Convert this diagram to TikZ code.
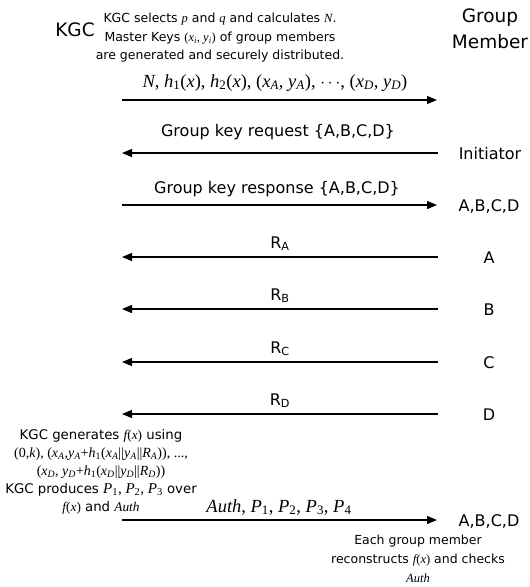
\documentclass[tikz,border=0pt]{standalone}
\usepackage{fontspec}
\setmainfont{DejaVu Sans}
\newfontfamily\tm{Liberation Serif}
\usetikzlibrary{arrows.meta}
\newcommand\vi[1]{{\tm\itshape #1}}
\newcommand\sbx[1]{\textsubscript{#1}}
\begin{document}
\begin{tikzpicture}[x=1pt,y=-1pt,
  arr/.style={line width=1.2pt,-{Triangle[length=10pt,width=8pt]}},
  lbl/.style={inner sep=0pt,anchor=base,font=\fontsize{16}{19}\selectfont},
  mlbl/.style={inner sep=0pt,anchor=base,font=\tm\fontsize{18.5}{20}\selectfont},
  side/.style={inner sep=0pt,anchor=base,font=\fontsize{16}{19}\selectfont},
  note/.style={inner sep=0pt,align=center}]
\useasboundingbox (0,0) rectangle (530,587);

\node[inner sep=0pt,font=\fontsize{18.5}{22}\selectfont] (kgc) at (75,30) {KGC};
\node[note,font=\fontsize{12.5}{18.5}\selectfont] (top) at (220,38)
  {KGC selects \vi{p} and \vi{q} and calculates \vi{N}.\\
   Master Keys {\tm(\vi{x}\sbx{\vi{i}}, \vi{y}\sbx{\vi{i}})} of group members\\
   are generated and securely distributed.};
\node[note,font=\fontsize{18.5}{26}\selectfont] (gm) at (490,29) {Group\\Member};

% arrow 1
\coordinate (a1l) at (122,100); \coordinate (a1r) at (437,100);
\draw[arr] (a1l) -- (a1r);
\node[mlbl] (m1) at (275,87) {\vi{N}, \vi{h}\sbx{1}(\vi{x}), \vi{h}\sbx{2}(\vi{x}), (\vi{x}\sbx{\vi{A}}, \vi{y}\sbx{\vi{A}}), $\cdots$, (\vi{x}\sbx{\vi{D}}, \vi{y}\sbx{\vi{D}})};

% arrow 2
\coordinate (a2l) at (122,153); \coordinate (a2r) at (438,153);
\draw[arr] (a2r) -- (a2l);
\node[lbl] (m2) at (278,136) {Group key request \{A,B,C,D\}};
\node[side] (ini) at (490,159) {Initiator};

% arrow 3
\coordinate (a3l) at (122,205); \coordinate (a3r) at (437,205);
\draw[arr] (a3l) -- (a3r);
\node[lbl] (m3) at (277,193) {Group key response \{A,B,C,D\}};
\node[side] (all1) at (489,211) {A,B,C,D};

% R arrows
\coordinate (a4l) at (122,257); \coordinate (a4r) at (438,257);
\draw[arr] (a4r) -- (a4l);
\node[lbl] (m4) at (280,248) {R\sbx{A}};
\node[side] (na) at (489,263) {A};

\coordinate (a5l) at (122,309); \coordinate (a5r) at (438,309);
\draw[arr] (a5r) -- (a5l);
\node[lbl] (m5) at (280,300) {R\sbx{B}};
\node[side] (nb) at (489,315) {B};

\coordinate (a6l) at (122,362); \coordinate (a6r) at (438,362);
\draw[arr] (a6r) -- (a6l);
\node[lbl] (m6) at (280,353) {R\sbx{C}};
\node[side] (nc) at (489,368) {C};

\coordinate (a7l) at (122,414); \coordinate (a7r) at (438,414);
\draw[arr] (a7r) -- (a7l);
\node[lbl] (m7) at (280,405) {R\sbx{D}};
\node[side] (nd) at (489,420) {D};

% left note
\node[note,font=\fontsize{13.3}{18}\selectfont] (gen) at (101,472)
  {KGC generates \vi{f}{\tm(}\vi{x}{\tm)} using\\
   {\tm\fontsize{14}{18}\selectfont (0,\vi{k}), (\vi{x}\sbx{\vi{A}},\vi{y}\sbx{\vi{A}}+\vi{h}\sbx{1}(\vi{x}\sbx{\vi{A}}||\vi{y}\sbx{\vi{A}}||\vi{R}\sbx{\vi{A}})), ...,}\\
   {\tm\fontsize{14}{18}\selectfont (\vi{x}\sbx{\vi{D}}, \vi{y}\sbx{\vi{D}}+\vi{h}\sbx{1}(\vi{x}\sbx{\vi{D}}||\vi{y}\sbx{\vi{D}}||\vi{R}\sbx{\vi{D}}))}\\
   KGC produces {\tm\fontsize{15}{18}\selectfont\vi{P}\sbx{1}, \vi{P}\sbx{2}, \vi{P}\sbx{3}} over\\
   \vi{f}{\tm(}\vi{x}{\tm)} and \vi{Auth}};

% final arrow
\coordinate (a8l) at (122,520); \coordinate (a8r) at (437,520);
\draw[arr] (a8l) -- (a8r);
\node[mlbl] (m8) at (279,512) {\vi{Auth}, \vi{P}\sbx{1}, \vi{P}\sbx{2}, \vi{P}\sbx{3}, \vi{P}\sbx{4}};
\node[side] (all2) at (489,526) {A,B,C,D};

\node[note,font=\fontsize{12.5}{19}\selectfont] (rec) at (418,559)
  {Each group member\\
   reconstructs \vi{f}{\tm(}\vi{x}{\tm)} and checks\\
   \vi{Auth}};
\end{tikzpicture}
\end{document}
